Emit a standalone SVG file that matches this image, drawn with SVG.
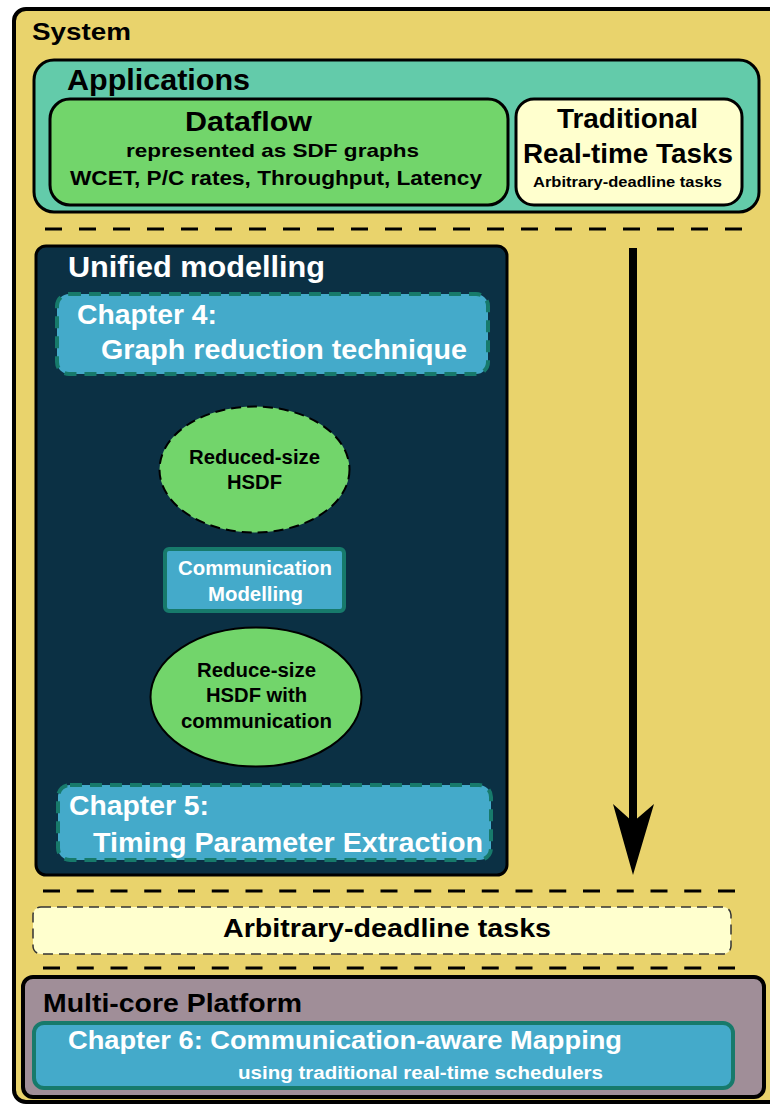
<svg xmlns="http://www.w3.org/2000/svg" width="770" height="1106" viewBox="0 0 770 1106">
  <defs>
    <style>
      text { font-family: "Liberation Sans", Arial, sans-serif; font-weight: bold; }
      .dark { fill: #000000; }
      .light { fill: #ffffff; }
      .box { stroke: #000000; stroke-width: 3; }
      .chapter { fill: #44aaca; stroke: #177a6b; stroke-width: 4; }
      .chapterDashed { fill: #44aaca; stroke: #177a6b; stroke-width: 4; stroke-dasharray: 12 8; }
      .divider { stroke: #000000; stroke-width: 3; fill: none; stroke-dasharray: 17 17; }
      .hsdf { fill: #72d56b; stroke: #000000; stroke-width: 2; }
    </style>
  </defs>

  <!-- outer system frame -->
  <g id="system">
    <rect x="14" y="9" width="790" height="1093" rx="12" fill="#e9d36c" stroke="#000000" stroke-width="4"/>
    <text class="dark" x="32" y="40" font-size="24" textLength="99" lengthAdjust="spacingAndGlyphs">System</text>
  </g>

  <!-- applications layer -->
  <g id="applications">
    <rect class="box" x="34" y="60" width="725" height="152" rx="20" fill="#63cbaa"/>
    <text class="dark" x="67" y="90" font-size="30" textLength="183" lengthAdjust="spacingAndGlyphs">Applications</text>
  </g>

  <g id="dataflow">
    <rect class="box" x="50" y="99" width="458" height="106" rx="20" fill="#72d56b"/>
    <text class="dark" x="185" y="131" font-size="27" textLength="127" lengthAdjust="spacingAndGlyphs">Dataflow</text>
    <text class="dark" x="126" y="157" font-size="19" textLength="293" lengthAdjust="spacingAndGlyphs">represented as SDF graphs</text>
    <text class="dark" x="70" y="185" font-size="20" textLength="412" lengthAdjust="spacingAndGlyphs">WCET, P/C rates, Throughput, Latency</text>
  </g>

  <g id="traditional-tasks">
    <rect class="box" x="516" y="99" width="226" height="106" rx="18" fill="#ffffce"/>
    <text class="dark" x="557" y="128" font-size="28" textLength="141" lengthAdjust="spacingAndGlyphs">Traditional</text>
    <text class="dark" x="523" y="163" font-size="28" textLength="210" lengthAdjust="spacingAndGlyphs">Real-time Tasks</text>
    <text class="dark" x="533" y="187" font-size="15" textLength="189" lengthAdjust="spacingAndGlyphs">Arbitrary-deadline tasks</text>
  </g>

  <!-- layer separators -->
  <g id="separators">
    <line class="divider" x1="45" y1="229" x2="742" y2="229"/>
    <line class="divider" x1="43" y1="891" x2="736" y2="891" style="stroke-dasharray: 17 16.75"/>
    <line class="divider" x1="43" y1="968" x2="736" y2="968" style="stroke-dasharray: 17 16.75"/>
  </g>

  <!-- unified modelling layer -->
  <g id="unified-modelling">
    <rect class="box" x="36" y="246" width="471" height="629" rx="10" fill="#0b3044"/>
    <text class="light" x="68" y="277" font-size="29" textLength="257" lengthAdjust="spacingAndGlyphs">Unified modelling</text>
  </g>

  <g id="chapter-4">
    <rect class="chapterDashed" x="57" y="294" width="431" height="80" rx="12"/>
    <text class="light" x="77" y="324" font-size="28" textLength="140" lengthAdjust="spacingAndGlyphs">Chapter 4:</text>
    <text class="light" x="101" y="359" font-size="28" textLength="366" lengthAdjust="spacingAndGlyphs">Graph reduction technique</text>
  </g>

  <g id="reduced-size-hsdf">
    <ellipse class="hsdf" cx="254.5" cy="469.5" rx="95" ry="63" stroke-dasharray="10 6"/>
    <text class="dark" x="189" y="464" font-size="20" textLength="131" lengthAdjust="spacingAndGlyphs">Reduced-size</text>
    <text class="dark" x="227" y="489" font-size="20" textLength="55" lengthAdjust="spacingAndGlyphs">HSDF</text>
  </g>

  <g id="communication-modelling">
    <rect class="chapter" x="165" y="549" width="179" height="62" rx="4"/>
    <text class="light" x="178" y="575" font-size="20" textLength="154" lengthAdjust="spacingAndGlyphs">Communication</text>
    <text class="light" x="208" y="601" font-size="20" textLength="95" lengthAdjust="spacingAndGlyphs">Modelling</text>
  </g>

  <g id="hsdf-with-communication">
    <ellipse class="hsdf" cx="256" cy="697" rx="105.5" ry="69.5"/>
    <text class="dark" x="197" y="677" font-size="20" textLength="119" lengthAdjust="spacingAndGlyphs">Reduce-size</text>
    <text class="dark" x="206" y="702" font-size="20" textLength="101" lengthAdjust="spacingAndGlyphs">HSDF with</text>
    <text class="dark" x="181" y="728" font-size="20" textLength="151" lengthAdjust="spacingAndGlyphs">communication</text>
  </g>

  <g id="chapter-5">
    <rect class="chapterDashed" x="58" y="785" width="433" height="75" rx="12"/>
    <text class="light" x="69" y="815" font-size="28" textLength="140" lengthAdjust="spacingAndGlyphs">Chapter 5:</text>
    <text class="light" x="93" y="852" font-size="28" textLength="390" lengthAdjust="spacingAndGlyphs">Timing Parameter Extraction</text>
  </g>

  <!-- arbitrary-deadline task set -->
  <g id="arbitrary-deadline-tasks">
    <rect x="33" y="907" width="698" height="47" rx="8" fill="#ffffce" stroke="#333333" stroke-width="1.5" stroke-dasharray="10 6"/>
    <text class="dark" x="223" y="937" font-size="26" textLength="328" lengthAdjust="spacingAndGlyphs">Arbitrary-deadline tasks</text>
  </g>

  <!-- platform layer -->
  <g id="multi-core-platform">
    <rect x="23" y="977" width="741" height="120" rx="10" fill="#a08e98" stroke="#000000" stroke-width="4"/>
    <text class="dark" x="43" y="1012" font-size="25" textLength="259" lengthAdjust="spacingAndGlyphs">Multi-core Platform</text>
  </g>

  <g id="chapter-6">
    <rect class="chapter" x="34" y="1023" width="699" height="65" rx="10"/>
    <text class="light" x="68" y="1049" font-size="26" textLength="554" lengthAdjust="spacingAndGlyphs">Chapter 6: Communication-aware Mapping</text>
    <text class="light" x="238" y="1079" font-size="18" textLength="365" lengthAdjust="spacingAndGlyphs">using traditional real-time schedulers</text>
  </g>

  <!-- top-down flow -->
  <g id="connectors">
    <line x1="633" y1="248" x2="633" y2="822" stroke="#000000" stroke-width="8"/>
    <path d="M633 875 L613 804 L633 822 L654 804 Z" fill="#000000"/>
  </g>
</svg>
